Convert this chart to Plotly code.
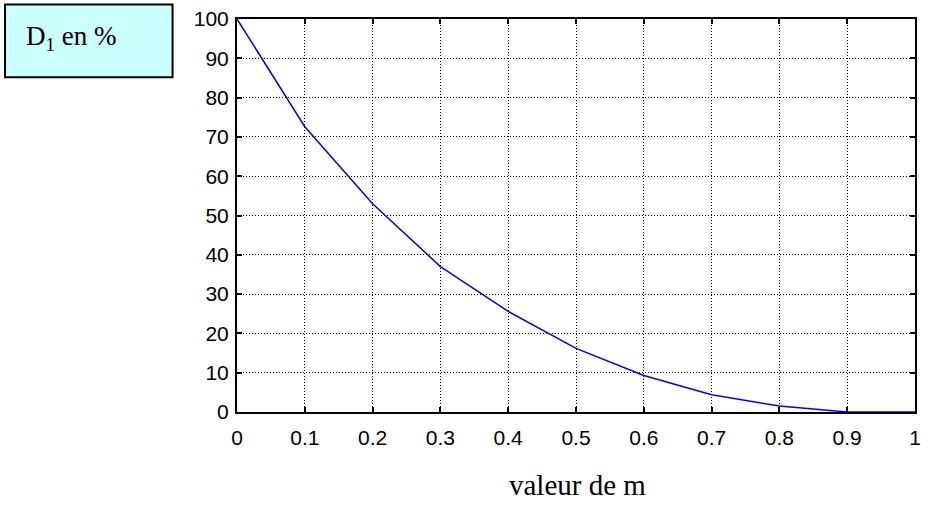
import plotly.graph_objects as go

m_values = [0, 0.1, 0.2, 0.3, 0.4, 0.5, 0.6, 0.7, 0.8, 0.9, 1.0]
d1_percent = [100, 72.6, 53.0, 37.0, 25.6, 16.2, 9.3, 4.4, 1.5, 0, 0]
x_ticks = [0, 0.1, 0.2, 0.3, 0.4, 0.5, 0.6, 0.7, 0.8, 0.9, 1]
x_tick_labels = ["0", "0.1", "0.2", "0.3", "0.4", "0.5", "0.6", "0.7", "0.8", "0.9", "1"]
y_ticks = [0, 10, 20, 30, 40, 50, 60, 70, 80, 90, 100]

W, H = 928, 506
L, R, T, B = 237, 7, 17.5, 94
pw = W - L - R
ph = H - T - B

def px_x(p):
    return (p - L) / pw

def px_y(p):
    return (H - B - p) / ph

fig = go.Figure()
fig.add_trace(go.Scatter(x=m_values, y=d1_percent, mode="lines",
                         line=dict(color="#0000FF", width=1.5), showlegend=False))

axis_common = dict(showline=True, linecolor="black", linewidth=2, mirror="allticks",
                   ticks="inside", ticklen=5, tickcolor="black", tickwidth=1.5,
                   showgrid=True, gridcolor="black", gridwidth=1, griddash="1px,2px",
                   zeroline=False,
                   tickfont=dict(family="Liberation Sans, Arial", size=21, color="black"))

fig.update_xaxes(range=[0, 1], tickvals=x_ticks, ticktext=x_tick_labels,
                 ticklabelstandoff=6, **axis_common)
fig.update_yaxes(range=[0, 100], tickvals=y_ticks, ticklabelstandoff=2, **axis_common)

fig.add_shape(type="rect", xref="paper", yref="paper",
              x0=px_x(3), x1=px_x(172), y0=px_y(76), y1=px_y(3),
              fillcolor="#CCFFFF", line=dict(color="black", width=2), layer="above")

fig.add_annotation(xref="paper", yref="paper", x=px_x(70), y=px_y(37),
                   text="D<sub>1</sub> en %", showarrow=False, xanchor="center", yanchor="middle",
                   font=dict(family="Liberation Serif, Times New Roman", size=27, color="black"))

fig.add_annotation(xref="paper", yref="paper", x=px_x(581), y=px_y(485),
                   text="valeur de m", showarrow=False, xanchor="center", yanchor="middle",
                   font=dict(family="Liberation Serif, Times New Roman", size=29, color="black"))

fig.update_layout(width=W, height=H, margin=dict(l=L, r=R, t=T, b=B),
                  paper_bgcolor="white", plot_bgcolor="white")

fig.write_html("out.html")
